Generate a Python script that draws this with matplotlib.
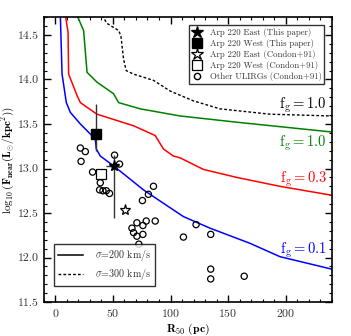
import matplotlib
matplotlib.use("Agg")
import matplotlib.pyplot as plt
from matplotlib.ticker import MultipleLocator
from matplotlib.lines import Line2D

plt.rcParams['font.family'] = 'cmr10'
plt.rcParams['mathtext.fontset'] = 'cm'
plt.rcParams['axes.formatter.use_mathtext'] = True

# Model curves (R50 in pc, log10 F_near)
blue_x = [4.3, 5.8, 9.5, 13.0, 21.7, 34.7, 35.5, 39.0, 50.5, 62.1, 76.5, 93.8, 111.2, 134.3, 169.0, 195.0, 240.0]
blue_y = [14.72, 14.06, 13.74, 13.63, 13.50, 13.33, 13.22, 13.14, 13.03, 12.91, 12.76, 12.61, 12.46, 12.33, 12.16, 12.01, 11.87]
red_x = [8.7, 11.0, 11.5, 18.8, 21.7, 36.1, 67.9, 86.7, 93.8, 102.5, 108.3, 128.5, 157.5, 195.0, 240.0]
red_y = [14.72, 14.53, 14.06, 13.82, 13.74, 13.61, 13.48, 13.37, 13.22, 13.14, 13.12, 12.99, 12.90, 12.80, 12.70]
green_x = [18.8, 24.5, 27.5, 36.1, 50.5, 54.9, 73.7, 108.3, 157.5, 240.0]
green_y = [14.72, 14.55, 14.08, 13.97, 13.84, 13.74, 13.67, 13.59, 13.52, 13.41]
dash_x = [40.5, 44.8, 54.9, 56.9, 59.2, 61.5, 67.9, 85.2, 99.7, 119.8, 143.0, 186.3, 240.0]
dash_y = [14.72, 14.63, 14.55, 14.49, 14.23, 14.10, 14.06, 13.99, 13.87, 13.76, 13.67, 13.61, 13.59]

# Other ULIRGs (Condon+91)
ulirg_x = [21.7, 26.0, 22.3, 32.3, 51.4, 55.7, 39.0, 38.4, 41.3, 44.2, 47.0, 85.2, 80.8, 75.6,
           78.9, 86.7, 70.8, 76.0, 66.5, 67.9, 70.8, 76.0, 72.5, 122.2, 111.2, 134.9, 134.9, 134.9, 164.0]
ulirg_y = [13.23, 13.19, 13.08, 12.96, 13.15, 13.05, 12.84, 12.76, 12.75, 12.75, 12.72, 12.80, 12.71, 12.64,
           12.41, 12.41, 12.39, 12.36, 12.33, 12.28, 12.24, 12.26, 12.15, 12.37, 12.23, 12.26, 11.87, 11.76, 11.79]

# Arp 220
east_this = (50.5, 13.03)
east_this_xerr = [[6.5], [4.5]]
east_this_yerr = [[0.59], [0.12]]
west_this = (35.5, 13.39)
west_this_yerr = [[0.19], [0.33]]
east_condon = (60.7, 12.53)
west_condon = (39.9, 12.94)

fig = plt.figure(figsize=(3.51, 3.36), dpi=100)
ax = fig.add_axes([0.125, 0.101, 0.82, 0.848])

ax.plot(blue_x, blue_y, color='blue', lw=1.1, zorder=2)
ax.plot(red_x, red_y, color='red', lw=1.1, zorder=2)
ax.plot(green_x, green_y, color='green', lw=1.1, zorder=2)
ax.plot(dash_x, dash_y, color='black', lw=1.0, ls=(0, (2, 1.5)), zorder=2)

ax.scatter(ulirg_x, ulirg_y, s=20, facecolors='none', edgecolors='black', linewidths=0.9, zorder=3)

ax.errorbar([east_this[0]], [east_this[1]], xerr=east_this_xerr, yerr=east_this_yerr,
            fmt='none', ecolor='#333333', elinewidth=1.0, capsize=0, zorder=4)
ax.errorbar([west_this[0]], [west_this[1]], yerr=west_this_yerr,
            fmt='none', ecolor='#333333', elinewidth=1.0, capsize=0, zorder=4)
ax.plot([west_this[0]], [west_this[1]], marker='s', ms=6.5, color='black', ls='none', zorder=5)
ax.plot([east_this[0]], [east_this[1]], marker='*', ms=8, color='black', ls='none', zorder=5)
ax.plot([east_condon[0]], [east_condon[1]], marker='*', ms=8, mfc='white', mec='black', mew=0.9, ls='none', zorder=5)
ax.plot([west_condon[0]], [west_condon[1]], marker='s', ms=6.5, mfc='white', mec='black', mew=0.9, ls='none', zorder=5)

ax.set_xlim(-10, 240)
ax.set_ylim(11.5, 14.7)
ax.xaxis.set_major_locator(MultipleLocator(50))
ax.xaxis.set_minor_locator(MultipleLocator(10))
ax.yaxis.set_major_locator(MultipleLocator(0.5))
ax.yaxis.set_minor_locator(MultipleLocator(0.1))
ax.tick_params(which='both', direction='in', top=True, right=True, labelsize=8.5, colors='black', labelcolor='#333333')
ax.tick_params(which='major', length=5, width=1.0)
ax.tick_params(which='minor', length=2.5, width=0.8)
for sp in ax.spines.values():
    sp.set_linewidth(1.2)
ax.set_yticklabels(['%.1f' % v for v in ax.get_yticks()])

ax.set_xlabel(r'$\mathbf{R_{50}\ (pc)}$', fontsize=8.5, labelpad=2)
ax.set_ylabel(r'$\mathbf{\log_{10}(F_{near}(L_{\odot}/kpc^2))}$', fontsize=8.0)
ax.yaxis.set_label_coords(-0.092, 0.5)

ax.text(236, 13.71, r'$\mathrm{f_g}=1.0$', color='black', fontsize=10.5, ha='right', va='center')
ax.text(236, 13.28, r'$\mathrm{f_g}=1.0$', color='green', fontsize=10.5, ha='right', va='center')
ax.text(236, 12.88, r'$\mathrm{f_g}=0.3$', color='red', fontsize=10.5, ha='right', va='center')
ax.text(236, 12.08, r'$\mathrm{f_g}=0.1$', color='blue', fontsize=10.5, ha='right', va='center')

h1 = [Line2D([], [], marker='*', ms=9, color='black', ls='none'),
      Line2D([], [], marker='s', ms=7.5, color='black', ls='none'),
      Line2D([], [], marker='*', ms=9, mfc='white', mec='black', mew=0.9, ls='none'),
      Line2D([], [], marker='s', ms=7.5, mfc='white', mec='black', mew=0.9, ls='none'),
      Line2D([], [], marker='o', ms=4.5, mfc='none', mec='black', mew=1.0, ls='none')]
l1 = ['Arp 220 East (This paper)', 'Arp 220 West (This paper)', 'Arp 220 East (Condon+91)',
      'Arp 220 West (Condon+91)', 'Other ULIRGs (Condon+91)']
leg1 = ax.legend(h1, l1, loc='upper right', bbox_to_anchor=(0.975, 0.972), fontsize=6.3, frameon=True,
                 fancybox=False, edgecolor='black', handlelength=1.2, handletextpad=0.8,
                 borderpad=0.35, labelspacing=0.22, borderaxespad=0)
leg1.get_frame().set_linewidth(1.0)
for t in leg1.get_texts():
    t.set_color('#333333')
ax.add_artist(leg1)

h2 = [Line2D([], [], color='black', lw=1.1),
      Line2D([], [], color='black', lw=1.0, ls=(0, (2, 1.5)))]
l2 = [r'$\sigma$=200 km/s', r'$\sigma$=300 km/s']
leg2 = ax.legend(h2, l2, loc='lower left', bbox_to_anchor=(0.035, 0.055), fontsize=7.2, frameon=True,
                 fancybox=False, edgecolor='black', handlelength=2.5, handletextpad=1.2,
                 borderpad=0.4, labelspacing=0.4, borderaxespad=0)
leg2.get_frame().set_linewidth(1.0)
for t in leg2.get_texts():
    t.set_color('#333333')

fig.savefig('out.png', dpi=100)
